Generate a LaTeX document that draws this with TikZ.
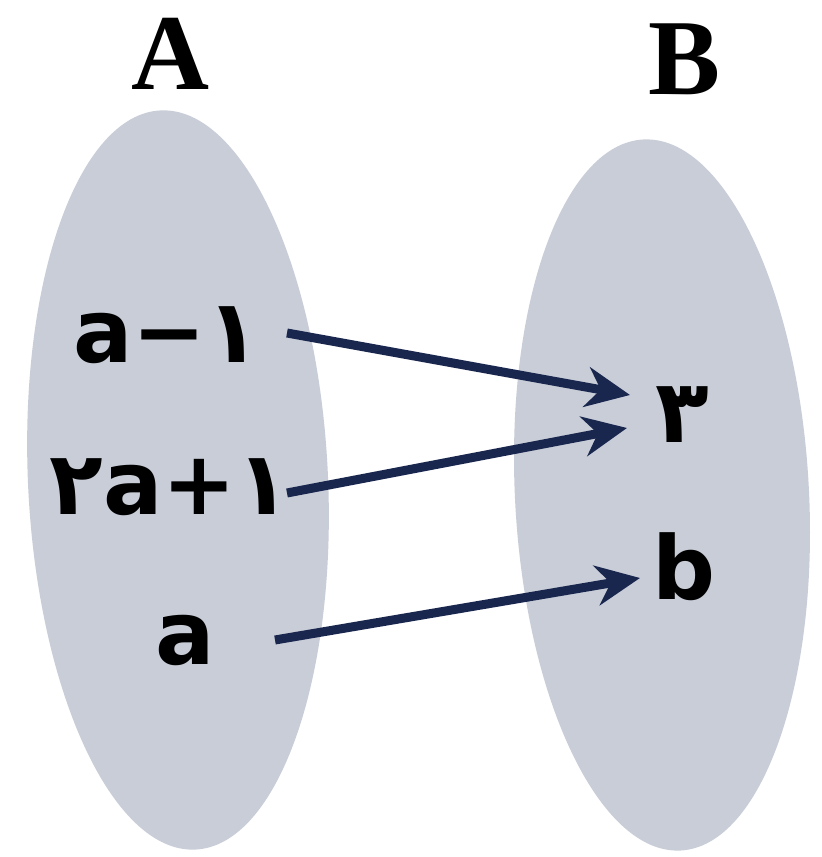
\documentclass[tikz,border=0pt]{standalone}
\usepackage{fontspec}
\setmainfont{Liberation Serif}
\newfontfamily\elfont{DejaVu Sans}
\usetikzlibrary{arrows.meta}
\definecolor{setfill}{RGB}{200,205,216}
\definecolor{arrowc}{RGB}{25,38,78}
\tikzset{
  setshape/.style={fill=setfill, draw=none},
  setname/.style={font=\bfseries\fontsize{54}{60}\selectfont, inner sep=0pt, anchor=base},
  elem/.style={font=\elfont\bfseries\fontsize{44}{50}\selectfont, inner sep=0pt, anchor=base},
  maparrow/.style={draw=arrowc, line width=4.5pt, -{Stealth[length=22pt,width=20pt]}}
}
\begin{document}
\begin{tikzpicture}[x=0.5pt,y=0.5pt]
\useasboundingbox (0,0) rectangle (822,857);
\fill[white] (0,0) rectangle (822,857);
% sets
\path[setshape, rotate around={2.7:(178,377)}] (178,377) ellipse [x radius=150, y radius=370];
\path[setshape, rotate around={3:(662,362)}] (662,362) ellipse [x radius=147, y radius=356];
% set names
\node[setname] (A) at (170,767) {A};
\node[setname] (B) at (685,762) {B};
% elements
\node[elem] (a1) at (167,494) {a−۱};
\node[elem] (a2) at (170,342) {۲a+۱};
\node[elem] (a3) at (185,192) {a};
\node[elem] (b3) at (682,414) {۳};
\node[elem] (bb) at (684,257) {b};
% arrow ends
\coordinate (s1) at (287,524);
\coordinate (e1) at (630,462);
\coordinate (s2) at (287,364);
\coordinate (e2) at (627,429);
\coordinate (s3) at (275,217);
\coordinate (e3) at (640,279);
\draw[maparrow] (s1) -- (e1);
\draw[maparrow] (s2) -- (e2);
\draw[maparrow] (s3) -- (e3);
\end{tikzpicture}
\end{document}
